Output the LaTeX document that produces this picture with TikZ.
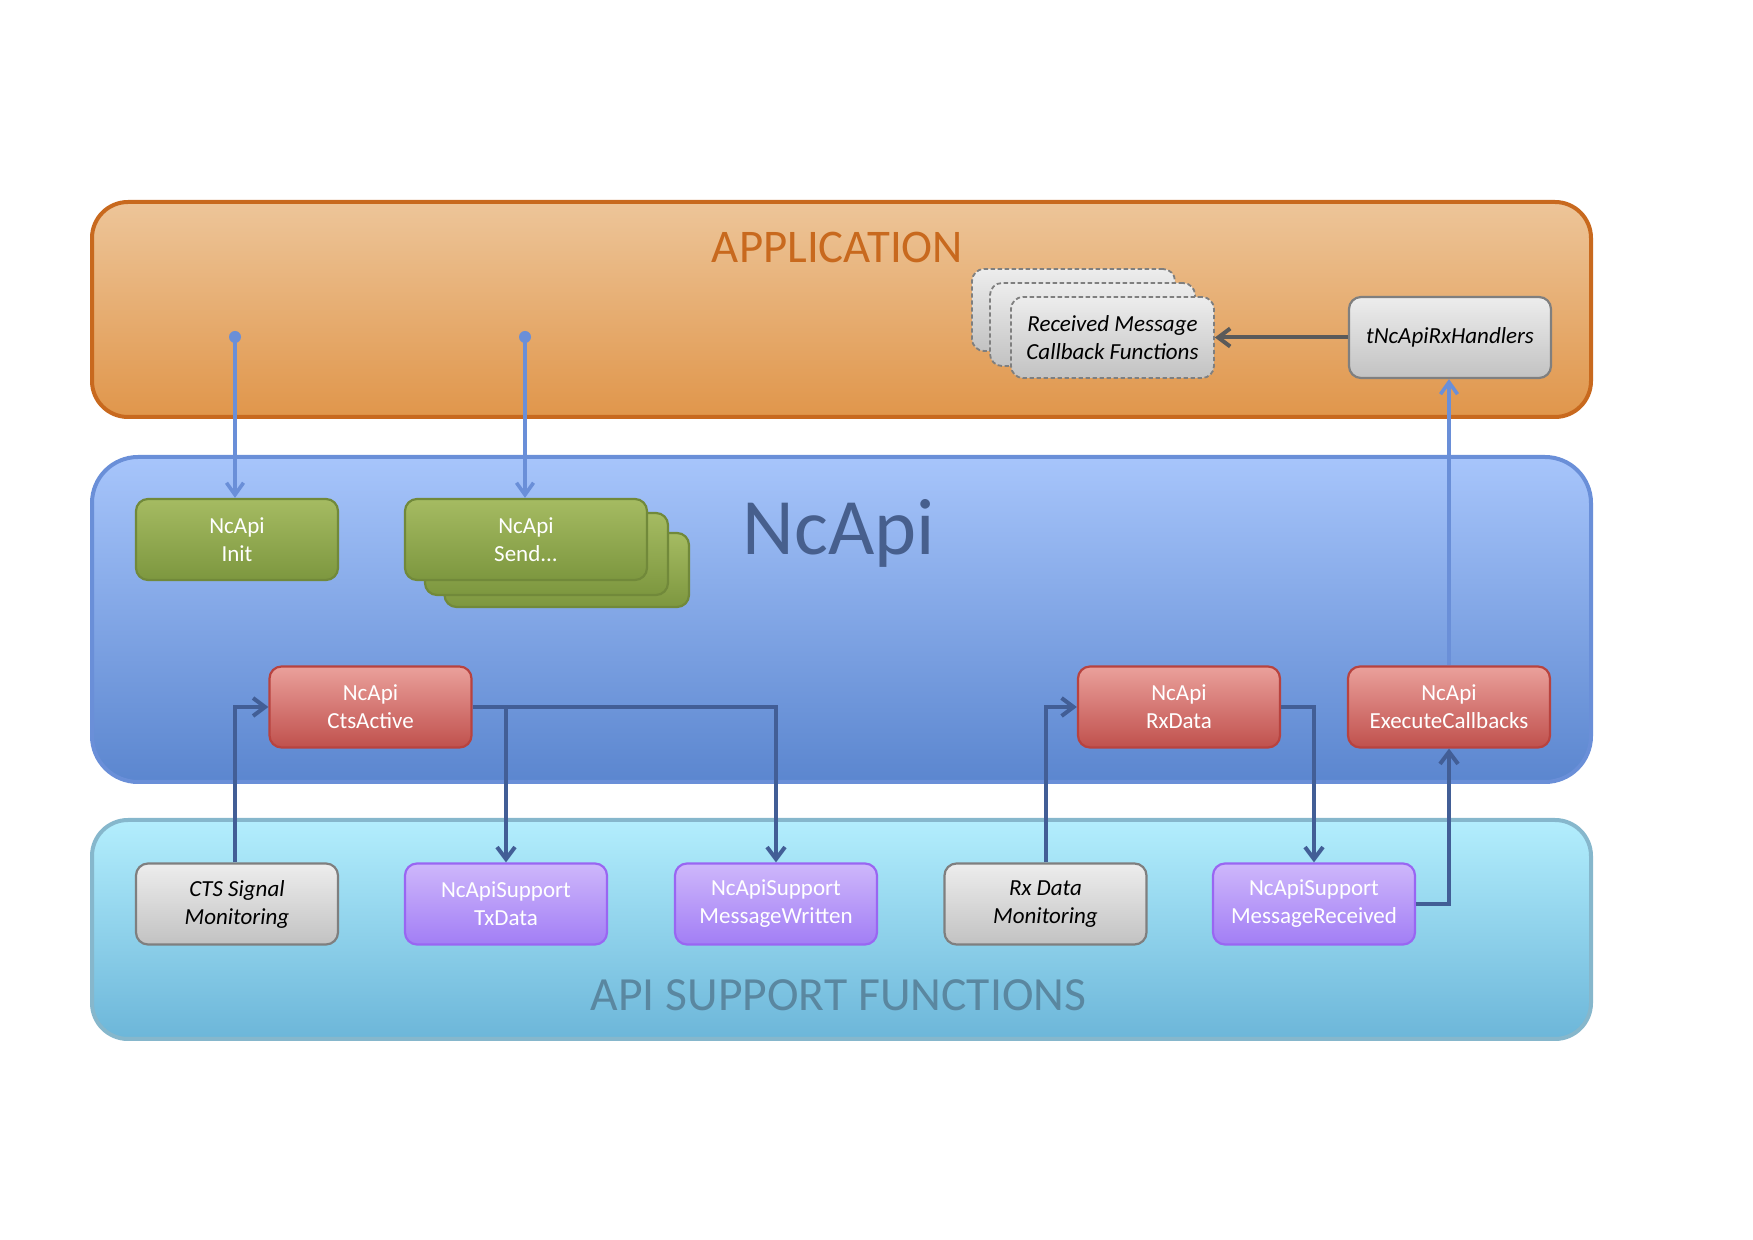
\documentclass[tikz,border=0pt]{standalone}
\usepackage{fontspec}
\setmainfont{Carlito}
\usetikzlibrary{arrows.meta}
\definecolor{appTop}{HTML}{EDC599}
\definecolor{appBot}{HTML}{E0964B}
\definecolor{appLine}{HTML}{C8691E}
\definecolor{ncTop}{HTML}{A7C5FB}
\definecolor{ncBot}{HTML}{5B86CF}
\definecolor{ncLine}{HTML}{6A8FD8}
\definecolor{ncText}{HTML}{475F8D}
\definecolor{apiTop}{HTML}{B3EEFD}
\definecolor{apiBot}{HTML}{6CB6D9}
\definecolor{apiLine}{HTML}{86B7CC}
\definecolor{apiText}{HTML}{5A87A0}
\definecolor{gTop}{HTML}{A5BB62}
\definecolor{gBot}{HTML}{7D973F}
\definecolor{gLine}{HTML}{71893A}
\definecolor{rTop}{HTML}{EAA19B}
\definecolor{rBot}{HTML}{C0504D}
\definecolor{rLine}{HTML}{B8433F}
\definecolor{pTop}{HTML}{CEB7FB}
\definecolor{pBot}{HTML}{A27EF5}
\definecolor{pLine}{HTML}{9966F2}
\definecolor{yTop}{HTML}{EDEDED}
\definecolor{yBot}{HTML}{C2C2C2}
\definecolor{yLine}{HTML}{7F7F7F}
\definecolor{darkArrow}{HTML}{425E96}
\definecolor{lightArrow}{HTML}{6A8FD8}
\definecolor{grayArrow}{HTML}{5A5A5A}
\begin{document}
\begin{tikzpicture}[x=0.5pt,y=-0.5pt,
  layer/.style={rounded corners=18pt, line width=2pt, minimum width=749.5pt, inner sep=0pt},
  boxbase/.style={rounded corners=6pt, minimum width=101pt, minimum height=40.5pt, line width=1.1pt,
    align=center, inner sep=0pt, font=\fontsize{11.5}{14}\selectfont},
  gbox/.style={boxbase, draw=gLine, top color=gTop, bottom color=gBot, text=white},
  rbox/.style={boxbase, draw=rLine, top color=rTop, bottom color=rBot, text=white},
  pbox/.style={boxbase, draw=pLine, top color=pTop, bottom color=pBot, text=white},
  ybox/.style={boxbase, draw=yLine, top color=yTop, bottom color=yBot, text=black, font=\fontsize{11.5}{14}\selectfont\itshape},
  dbox/.style={ybox, dash pattern=on 2.2pt off 1.3pt, line width=0.9pt},
  darrow/.style={draw=darkArrow, line width=2pt, -{Straight Barb[length=6pt,width=9pt,line width=2pt]}},
  larrow/.style={draw=lightArrow, line width=1.8pt, -{Straight Barb[length=6pt,width=8.5pt,line width=1.8pt]}},
  garrow/.style={draw=grayArrow, line width=2pt, -{Straight Barb[length=6pt,width=9pt,line width=2pt]}},
  title/.style={anchor=base, inner sep=0pt}
]
\useasboundingbox (0,0) rectangle (1753,1240);

% layers
\node[layer, draw=appLine, top color=appTop, bottom color=appBot, minimum height=107.5pt] (app) at (841.5,309.5) {};
\node[layer, rounded corners=23pt, draw=ncLine, top color=ncTop, bottom color=ncBot, minimum height=162.5pt] (nc) at (841.5,619.5) {};
\node[layer, draw=apiLine, top color=apiTop, bottom color=apiBot, minimum height=109.5pt] (api) at (841.5,929.5) {};

% titles
\node[title, text=appLine, font=\fontsize{23.4}{26}\selectfont] (appT) at (837.5,263) {APPLICATION};
\node[title, text=ncText, font=\fontsize{40}{44}\selectfont] (ncT) at (839,555) {NcApi};
\node[title, text=apiText, font=\fontsize{23.8}{26}\selectfont] (apiT) at (838.5,1010) {API SUPPORT FUNCTIONS};

% application boxes
\node[dbox, minimum width=101.5pt, minimum height=41pt] (recv3) at (1073.5,310) {};
\node[dbox, minimum width=102.5pt, minimum height=41.5pt] (recv2) at (1092.5,324.5) {};
\node[dbox, minimum width=101.5pt, minimum height=40.5pt] (recv) at (1112.5,337.5) {Received Message\\Callback Functions};
\node[ybox] (rxh) at (1450,337.5) {tNcApiRxHandlers};

% NcApi boxes
\node[gbox] (init) at (237,539.5) {NcApi\\Init};
\node[gbox, minimum width=122.25pt, minimum height=37pt] (send3) at (566.75,570) {};
\node[gbox, minimum width=121.5pt, minimum height=41pt] (send2) at (546.5,554) {};
\node[gbox, minimum width=121pt] (send) at (526,539.5) {NcApi\\Send...};
\node[rbox] (ctsa) at (370.5,707) {NcApi\\CtsActive};
\node[rbox] (rxd) at (1179,707) {NcApi\\RxData};
\node[rbox] (exec) at (1449,707) {NcApi\\ExecuteCallbacks};

% support boxes
\node[ybox] (ctsm) at (237,904) {CTS Signal\\Monitoring};
\node[pbox] (txd) at (506,904) {NcApiSupport\\TxData};
\node[pbox] (msgw) at (776,904) {NcApiSupport\\MessageWritten};
\node[ybox] (rxm) at (1045.5,904) {Rx Data\\Monitoring};
\node[pbox] (msgr) at (1314,904) {NcApiSupport\\MessageReceived};

% dots
\coordinate (d1) at (235,337);
\coordinate (d2) at (525,337);
\fill[lightArrow] (d1) circle[radius=3pt];
\fill[lightArrow] (d2) circle[radius=3pt];

% connectors
\draw[larrow] (d1) -- (d1 |- init.north);
\draw[larrow] (d2) -- (d2 |- send.north);
\draw[larrow] (exec.north) -- (exec.north |- rxh.south);
\draw[garrow] (rxh.west) -- (recv.east);

\draw[darrow] (ctsm.north -| 235,0) |- (ctsa.west);
\draw[darrow] (ctsa.east) -| (msgw.north);
\draw[darrow] (ctsa.east -| txd.north) -- (txd.north);
\draw[darrow] (rxm.north) |- (rxd.west);
\draw[darrow] (rxd.east) -| (msgr.north);
\draw[darrow] (msgr.east) -| (exec.south);
\end{tikzpicture}
\end{document}
